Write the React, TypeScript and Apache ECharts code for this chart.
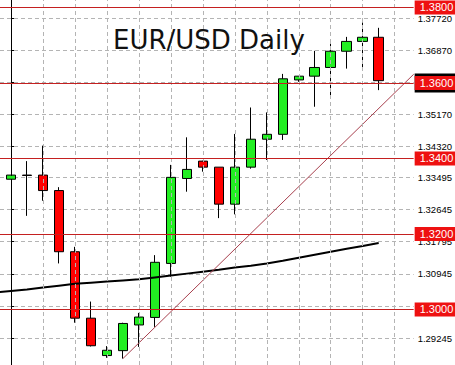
import React, { useEffect, useRef } from "react";
import * as echarts from "echarts";

// Daily candles (index 0..23)
const opens = [1.3345, 1.3356, 1.3356, 1.3315, 1.3153, 1.2977, 1.2878, 1.2891, 1.2959, 1.2979, 1.3122, 1.3347, 1.3393, 1.3377, 1.3279, 1.3377, 1.3451, 1.3464, 1.3608, 1.3618, 1.3641, 1.3684, 1.371, 1.3721];
const closes = [1.3356, 1.3355, 1.3315, 1.3153, 1.2977, 1.2904, 1.2892, 1.2963, 1.298, 1.3125, 1.335, 1.3371, 1.3377, 1.3279, 1.3377, 1.3451, 1.3464, 1.3611, 1.3618, 1.3641, 1.3684, 1.371, 1.3721, 1.3606];
const lows = [1.3345, 1.3248, 1.3288, 1.3122, 1.2965, 1.2902, 1.2872, 1.287, 1.2901, 1.2954, 1.3087, 1.3312, 1.3365, 1.3242, 1.3252, 1.3373, 1.3396, 1.3449, 1.3603, 1.3537, 1.3568, 1.3638, 1.3634, 1.3581];
const highs = [1.3356, 1.3393, 1.3434, 1.3324, 1.3166, 1.3021, 1.2903, 1.2965, 1.2991, 1.3144, 1.3383, 1.3456, 1.3394, 1.3377, 1.3465, 1.3535, 1.3522, 1.3624, 1.3618, 1.3685, 1.3704, 1.3722, 1.376, 1.3746];

// Moving average, from day -1 to day 23
const maStart = -1;
const maValues = [1.3045, 1.3049, 1.3053, 1.3058, 1.3063, 1.3068, 1.3071, 1.3074, 1.3077, 1.308, 1.3085, 1.309, 1.3095, 1.31, 1.3105, 1.3111, 1.3116, 1.3122, 1.3129, 1.3137, 1.3145, 1.3153, 1.3161, 1.3168, 1.3176];

// Trend line endpoints [day, price]
const trendStart = [7, 1.287];
const trendEnd = [25.1875, 1.3623];

// Horizontal levels
const levels = [1.38, 1.36, 1.34, 1.32, 1.3];
const currentPrice = 1.36057;

// Price axis ticks
const tickValues = [1.29245, 1.30095, 1.30945, 1.31795, 1.32645, 1.33495, 1.3432, 1.3517, 1.3602, 1.3687, 1.3772];

// Vertical grid (day positions), first is period separator
const vGridDays = [0, 2, 4, 6, 8, 10, 12, 14, 16, 18, 20, 22, 24];

const yMin = 1.2853;
const yMax = 1.38197;
const xMin = -0.6875;
const xMax = 25.1875;

export default function App() {
  const ref = useRef<HTMLDivElement>(null);
  useEffect(() => {
    if (!ref.current) return;
    const chart = echarts.init(ref.current, undefined, { renderer: "svg" });
    const candleData = opens.map((o, i) => [i, o, closes[i], lows[i], highs[i]]);
    const maData = maValues.map((v, i) => [maStart + i, v]);
    const gridLines = vGridDays.map((d, i) => ({
      xAxis: d,
      lineStyle: i === 0 ? { color: "#000", type: [4, 3], width: 1 } : { color: "#b4b4b4", type: [4, 3], width: 1 },
    }));
    chart.setOption({
      animation: false,
      backgroundColor: "#fff",
      grid: { left: 0, right: 41, top: 0, bottom: 0 },
      xAxis: { type: "value", min: xMin, max: xMax, show: false },
      yAxis: {
        type: "value",
        position: "right",
        min: yMin,
        max: yMax,
        axisLine: { show: true, lineStyle: { color: "#000", width: 1 } },
        axisTick: { show: true, length: 3, customValues: tickValues, lineStyle: { color: "#000" } },
        axisLabel: {
          customValues: tickValues,
          formatter: (v: number) => v.toFixed(5),
          color: "#000",
          fontSize: 9.5,
          fontFamily: "Liberation Sans",
          margin: 4,
        },
        splitLine: { show: true, lineStyle: { color: "#b4b4b4", type: [4, 3], width: 1 } },
      },
      graphic: [
        {
          type: "text",
          left: 113,
          top: 27,
          style: { text: "EUR/USD Daily", fill: "#111", font: "26px 'DejaVu Sans'" },
          z: 10,
        },
      ],
      series: [
        {
          type: "line",
          name: "vgrid",
          data: [],
          z: 1,
          markLine: { silent: true, symbol: "none", label: { show: false }, data: gridLines },
        },
        {
          type: "candlestick",
          data: candleData,
          encode: { x: 0, y: [1, 2, 3, 4] },
          barWidth: 10,
          z: 3,
          itemStyle: {
            color: "#22ee22",
            color0: "#ff0000",
            borderColor: "#000",
            borderColor0: "#000",
            borderColorDoji: "#000",
            borderWidth: 1,
          },
        },
        {
          type: "line",
          data: maData,
          symbol: "none",
          z: 4,
          lineStyle: { color: "#000", width: 2 },
        },
        {
          type: "line",
          data: [trendStart, trendEnd],
          symbol: "none",
          z: 4,
          lineStyle: { color: "#a8404e", width: 1, type: "solid" },
          markLine: {
            silent: true,
            symbol: "none",
            data: [
              {
                yAxis: currentPrice,
                lineStyle: { color: "rgba(0,0,0,0)", width: 0 },
                label: {
                  show: true,
                  position: "end",
                  distance: 1,
                  formatter: () => currentPrice.toFixed(5),
                  backgroundColor: "#000",
                  color: "#fff",
                  fontSize: 10,
                  fontFamily: "Liberation Sans",
                  padding: [5, 2, 4, 4],
                },
              },
            ],
          },
        },
        {
          type: "line",
          data: [],
          z: 5,
          markLine: {
            silent: true,
            symbol: "none",
            lineStyle: { color: "#c42020", width: 1, type: "solid" },
            label: {
              show: true,
              position: "end",
              distance: 1,
              formatter: (p: any) => Number(p.value).toFixed(4),
              backgroundColor: "#ee1111",
              color: "#fff",
              fontSize: 11,
              fontFamily: "Liberation Sans",
              padding: [2, 6, 1, 5],
            },
            data: levels.map((v) => ({ yAxis: v })),
          },
        },
      ],
    });
    return () => chart.dispose();
  }, []);
  return <div ref={ref} style={{ position: "absolute", left: 0, top: 0, width: 455, height: 365 }} />;
}
